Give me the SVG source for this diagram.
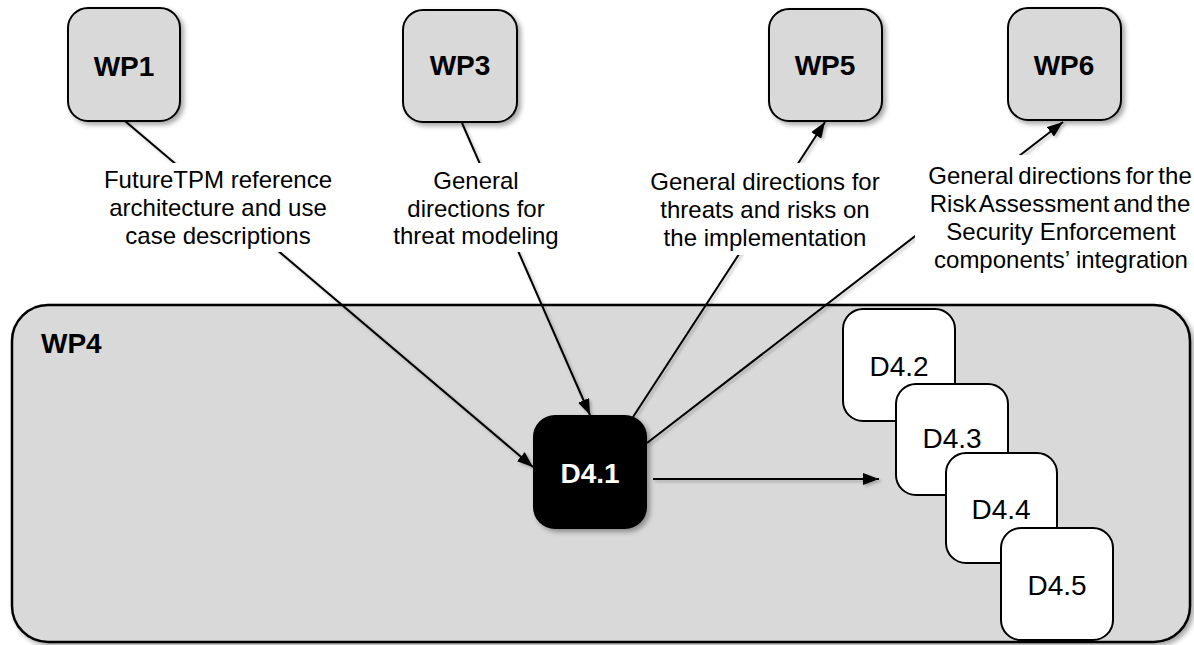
<svg xmlns="http://www.w3.org/2000/svg" width="1194" height="645" viewBox="0 0 1194 645">
  <defs>
    <filter id="shadow" x="-20%" y="-20%" width="140%" height="140%">
      <feDropShadow dx="3" dy="3" stdDeviation="2.5" flood-color="#000" flood-opacity="0.35"/>
    </filter>
    <filter id="lineShadow" x="-10%" y="-10%" width="120%" height="120%">
      <feDropShadow dx="2" dy="2" stdDeviation="1.5" flood-color="#000" flood-opacity="0.25"/>
    </filter>
    <marker id="arrow" viewBox="0 0 16 12" refX="16" refY="6" markerWidth="16" markerHeight="12" markerUnits="userSpaceOnUse" orient="auto">
      <path d="M0,0 L16,6 L0,12 Z" fill="#000"/>
    </marker>
    <style>
      .wp { fill: #d9d9d9; stroke: #000; stroke-width: 2; filter: url(#shadow); }
      .wpText { font-family: "Liberation Sans", Arial, sans-serif; font-weight: bold; font-size: 28px; fill: #000; text-anchor: middle; }
      .container { fill: #d9d9d9; stroke: #000; stroke-width: 2.5; filter: url(#shadow); }
      .dBox { fill: #fff; stroke: #000; stroke-width: 2; }
      .dText { font-family: "Liberation Sans", Arial, sans-serif; font-size: 28px; fill: #000; text-anchor: middle; }
      .edge { stroke: #000; stroke-width: 2; fill: none; }
      .labelBg { fill: #fff; }
      .label { font-family: "Liberation Sans", Arial, sans-serif; font-size: 24px; fill: #000; text-anchor: middle; }
    </style>
  </defs>

  <!-- WP4 container -->
  <g id="WP4">
    <rect class="container" x="12" y="305" width="1178" height="337" rx="36" ry="36"/>
    <text class="wpText" x="41" y="353" style="text-anchor:start">WP4</text>
  </g>

  <!-- connectors -->
  <g id="connectors" filter="url(#lineShadow)">
    <line class="edge" x1="125" y1="121" x2="533" y2="467" marker-end="url(#arrow)"/>
    <line class="edge" x1="462" y1="123" x2="590" y2="415" marker-end="url(#arrow)"/>
    <line class="edge" x1="633" y1="417" x2="825" y2="122" marker-end="url(#arrow)"/>
    <line class="edge" x1="647" y1="443" x2="1063" y2="122" marker-end="url(#arrow)"/>
    <line class="edge" x1="653" y1="479" x2="879" y2="479" marker-end="url(#arrow)"/>
  </g>

  <!-- connector labels -->
  <g id="labels">
    <g id="label-wp1">
      <rect class="labelBg" x="98" y="163" width="240" height="89"/>
      <text class="label" x="218" y="188">FutureTPM reference</text>
      <text class="label" x="218" y="216">architecture and use</text>
      <text class="label" x="218" y="244">case descriptions</text>
    </g>
    <g id="label-wp3">
      <rect class="labelBg" x="392" y="163" width="168" height="89"/>
      <text class="label" x="476" y="189">General</text>
      <text class="label" x="476" y="217">directions for</text>
      <text class="label" x="476" y="244">threat modeling</text>
    </g>
    <g id="label-wp5">
      <rect class="labelBg" x="648" y="163" width="236" height="92"/>
      <text class="label" x="765" y="190">General directions for</text>
      <text class="label" x="765" y="218">threats and risks on</text>
      <text class="label" x="765" y="246">the implementation</text>
    </g>
    <g id="label-wp6">
      <rect class="labelBg" x="915" y="155" width="279" height="125"/>
      <text class="label" x="1060" y="184" word-spacing="-2">General directions for the</text>
      <text class="label" x="1060" y="212" word-spacing="-3">Risk Assessment and the</text>
      <text class="label" x="1061" y="240">Security Enforcement</text>
      <text class="label" x="1061" y="268">components’ integration</text>
    </g>
  </g>

  <!-- work packages -->
  <g id="WP1">
    <rect class="wp" x="68" y="8" width="112" height="113" rx="20" ry="20"/>
    <text class="wpText" x="124" y="76">WP1</text>
  </g>
  <g id="WP3">
    <rect class="wp" x="403" y="10" width="114" height="112" rx="20" ry="20"/>
    <text class="wpText" x="460" y="75">WP3</text>
  </g>
  <g id="WP5">
    <rect class="wp" x="769" y="9" width="113" height="112" rx="20" ry="20"/>
    <text class="wpText" x="825" y="75">WP5</text>
  </g>
  <g id="WP6">
    <rect class="wp" x="1008" y="8" width="113" height="112" rx="20" ry="20"/>
    <text class="wpText" x="1064" y="75">WP6</text>
  </g>

  <!-- deliverables -->
  <g id="D4.1">
    <rect x="533" y="415" width="114" height="114" rx="22" ry="22" fill="#000" filter="url(#shadow)"/>
    <text class="wpText" x="590" y="483" style="fill:#fff">D4.1</text>
  </g>
  <g id="D4.2">
    <rect class="dBox" x="843" y="309" width="112" height="112" rx="20" ry="20"/>
    <text class="dText" x="899" y="376">D4.2</text>
  </g>
  <g id="D4.3">
    <rect class="dBox" x="896" y="384" width="112" height="111" rx="20" ry="20"/>
    <text class="dText" x="952" y="448">D4.3</text>
  </g>
  <g id="D4.4">
    <rect class="dBox" x="946" y="453" width="111" height="110" rx="20" ry="20"/>
    <text class="dText" x="1001" y="519">D4.4</text>
  </g>
  <g id="D4.5">
    <rect class="dBox" x="1001" y="528" width="112" height="112" rx="20" ry="20"/>
    <text class="dText" x="1057" y="595">D4.5</text>
  </g>
</svg>
